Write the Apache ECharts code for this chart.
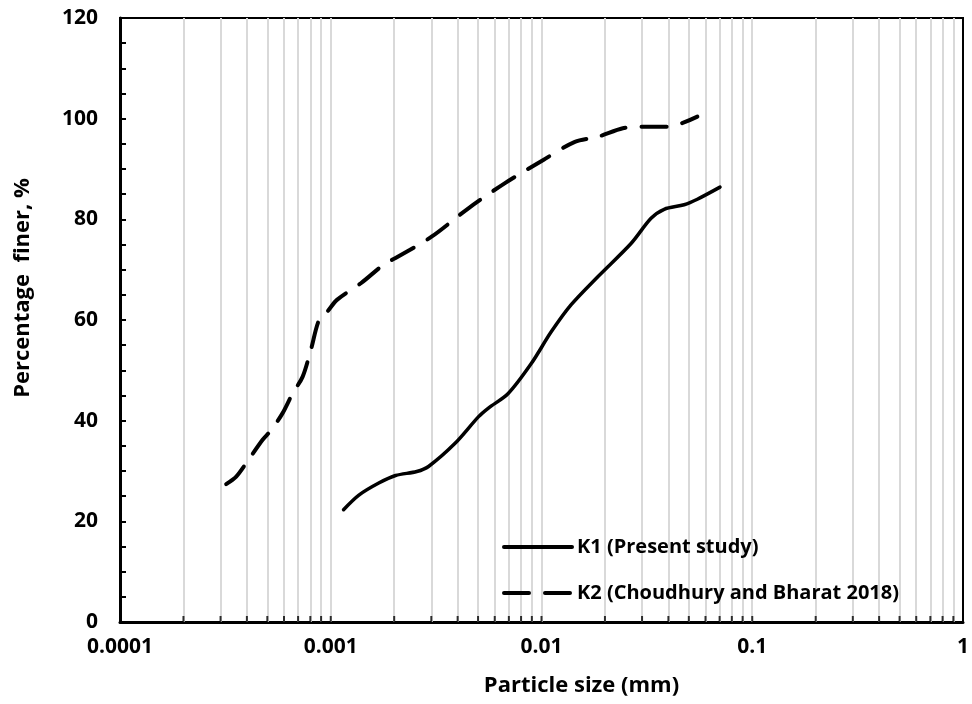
<!DOCTYPE html>
<html>
<head>
<meta charset="utf-8">
<script src="https://cdn.jsdelivr.net/npm/echarts@6/dist/echarts.min.js"></script>
<style>
  html, body { margin: 0; padding: 0; background: #fff; }
  #main { width: 972px; height: 704px; }
</style>
</head>
<body>
<div id="main"></div>
<script>
// K1 - present study, [particle size mm, % finer]
var k1Data = [
  [0.00115, 22.3], [0.00136, 25.2], [0.00169, 27.6], [0.00203, 29.1],
  [0.00256, 29.9], [0.00291, 30.9], [0.00389, 35.5], [0.00503, 40.8],
  [0.0056, 42.5], [0.00695, 45.4], [0.00896, 51.4], [0.0111, 57.6],
  [0.0138, 63.0], [0.0185, 68.6], [0.0266, 75.2], [0.0331, 80.2],
  [0.0382, 82.0], [0.0475, 82.9], [0.0549, 84.0], [0.0703, 86.4]
];
// K2 - Choudhury and Bharat 2018
var k2Data = [
  [0.000319, 27.4], [0.000356, 28.9], [0.000396, 31.5], [0.000475, 36.2],
  [0.000521, 38.1], [0.000591, 41.5], [0.000659, 45.4], [0.000735, 48.7],
  [0.000804, 54.0], [0.00088, 60.0], [0.000964, 61.7], [0.00107, 64.0],
  [0.00139, 67.3], [0.00182, 71.3], [0.00203, 72.3], [0.00302, 76.6],
  [0.0045, 82.2], [0.00671, 87.2], [0.0102, 91.8], [0.0144, 95.4],
  [0.0185, 96.4], [0.0243, 98.1], [0.0296, 98.4], [0.0396, 98.4],
  [0.0549, 100.4]
];
var seriesNames = ['K1 (Present study)', 'K2 (Choudhury and Bharat 2018)'];
var xTickLabels = ['0.0001', '0.001', '0.01', '0.1', '1'];
// minor log positions (2..9 x each decade) plus inner decades
var xMinorTicks = [
  0.0002, 0.0003, 0.0004, 0.0005, 0.0006, 0.0007, 0.0008, 0.0009, 0.001,
  0.002, 0.003, 0.004, 0.005, 0.006, 0.007, 0.008, 0.009, 0.01,
  0.02, 0.03, 0.04, 0.05, 0.06, 0.07, 0.08, 0.09, 0.1,
  0.2, 0.3, 0.4, 0.5, 0.6, 0.7, 0.8, 0.9
];

var FONT = 'Open Sans';
var chart = echarts.init(document.getElementById('main'));

var option = {
  animation: false,
  backgroundColor: '#fff',
  textStyle: { fontFamily: FONT, fontWeight: 'bold', color: '#000' },
  grid: {
    left: 120, right: 5, top: 18, bottom: 82,
    show: true, borderColor: '#000', borderWidth: 2
  },
  legend: {
    data: seriesNames,
    orient: 'vertical',
    left: 497, top: 529,
    itemWidth: 68, itemHeight: 14, itemGap: 20,
    itemStyle: { opacity: 0 },
    lineStyle: { width: 4 },
    textStyle: { fontFamily: FONT, fontWeight: 'bold', fontSize: 20, color: '#000', lineHeight: 26 }
  },
  xAxis: {
    type: 'log', logBase: 10, min: 0.0001, max: 1,
    name: 'Particle size (mm)', nameLocation: 'middle', nameGap: 53,
    nameTextStyle: { fontFamily: FONT, fontWeight: 'bold', fontSize: 22, color: '#000', padding: [0, 0, 0, 80] },
    axisLine: { lineStyle: { color: '#000', width: 3 } },
    axisTick: { inside: true, length: 7, lineStyle: { color: '#000', width: 2 } },
    axisLabel: {
      margin: 15, fontFamily: FONT, fontWeight: 'bold', fontSize: 21, color: '#000',
      formatter: function (v) { return xTickLabels[Math.round(Math.log10(v)) + 4]; }
    },
    splitLine: { show: false }
  },
  yAxis: {
    type: 'value', min: 0, max: 120, interval: 20,
    name: 'Percentage  finer, %', nameLocation: 'middle', nameGap: 86,
    nameTextStyle: { fontFamily: FONT, fontWeight: 'bold', fontSize: 22, color: '#000', padding: [0, 0, 0, 64] },
    axisLine: { show: true, lineStyle: { color: '#000', width: 3 } },
    axisTick: { show: true, inside: true, length: 6, lineStyle: { color: '#000', width: 2 } },
    minorTick: { show: true, splitNumber: 4, length: 6, lineStyle: { color: '#000', width: 2 } },
    axisLabel: { margin: 22, fontFamily: FONT, fontWeight: 'bold', fontSize: 21, color: '#000' },
    splitLine: { show: false }
  },
  series: [
    {
      // minor ticks + vertical gridlines on the log axis
      type: 'scatter', silent: true, z: 3,
      data: xMinorTicks.map(function (v) { return [v, 0]; }),
      symbol: 'rect', symbolSize: [2, 6], symbolOffset: [0, -3],
      itemStyle: { color: '#000' },
      markLine: {
        silent: true, z: 1, symbol: 'none', precision: 6, label: { show: false },
        lineStyle: { color: '#d9d9d9', width: 2, type: 'solid' },
        data: xMinorTicks.map(function (v) { return { xAxis: v }; })
      }
    },
    {
      name: seriesNames[0], type: 'line', data: k1Data, z: 4,
      smooth: 0.3, showSymbol: false, symbol: 'none',
      lineStyle: { color: '#000', width: 3.5, cap: 'round' },
      itemStyle: { color: '#000' }
    },
    {
      name: seriesNames[1], type: 'line', data: k2Data, z: 4,
      smooth: 0.3, showSymbol: false, symbol: 'none',
      lineStyle: { color: '#000', width: 4, type: [25, 16], cap: 'round' },
      itemStyle: { color: '#000' }
    }
  ]
};

chart.setOption(option);
</script>
</body>
</html>
